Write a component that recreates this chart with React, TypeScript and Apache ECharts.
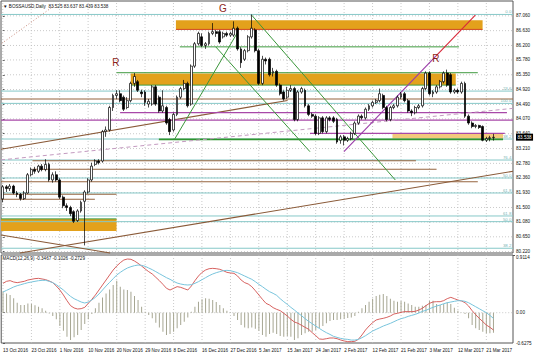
import React, { useEffect, useRef } from 'react';
import * as echarts from 'echarts';

const FONT = 'Liberation Sans';
const SLOTS = 144;
const LABEL_STEP = 8;
const PRICE_MIN = 80.18;
const PRICE_MAX = 87.49;
const MACD_MIN = -0.6275;
const MACD_HIST_MAX = 1.195;
const MACD_LINE_MAX = 0.9114;

const dateLabels = ['13 Oct 2016', '23 Oct 2016', '1 Nov 2016', '10 Nov 2016', '20 Nov 2016', '29 Nov 2016', '8 Dec 2016', '16 Dec 2016', '27 Dec 2016', '5 Jan 2017', '15 Jan 2017', '24 Jan 2017', '2 Feb 2017', '12 Feb 2017', '21 Feb 2017', '3 Mar 2017', '12 Mar 2017', '21 Mar 2017'];
const priceTicks = [87.06, 86.63, 86.2, 85.78, 85.35, 84.92, 84.49, 84.07, 83.64, 83.21, 82.78, 82.36, 81.93, 81.5, 81.08, 80.65, 80.22];

// [open, close, low, high]
const ohlc = [
  [81.75, 82.10, 81.65, 82.15], [82.10, 82.05, 81.95, 82.15], [82.05, 82.12, 81.98, 82.18], [82.12, 81.92, 81.88, 82.16], [81.92, 81.88, 81.80, 81.98],
  [81.88, 81.76, 81.70, 81.92], [81.76, 81.92, 81.72, 81.98], [81.92, 82.45, 81.90, 82.50], [82.45, 82.60, 82.40, 82.66], [82.60, 82.55, 82.48, 82.68],
  [82.55, 82.70, 82.50, 82.74], [82.70, 82.60, 82.55, 82.76], [82.60, 82.75, 82.55, 82.90], [82.75, 82.30, 82.25, 82.80], [82.30, 82.45, 82.22, 82.52],
  [82.45, 82.30, 82.25, 82.55], [82.30, 81.80, 81.75, 82.35], [81.80, 81.55, 81.48, 81.85], [81.55, 81.50, 81.40, 81.62], [81.50, 81.32, 81.25, 81.55],
  [81.38, 81.10, 81.05, 81.42], [81.12, 81.40, 81.08, 81.45], [81.40, 81.65, 81.35, 81.70], [81.68, 81.95, 80.40, 82.00], [81.95, 82.30, 81.90, 82.35],
  [82.30, 82.70, 82.25, 82.80], [82.75, 82.85, 82.70, 82.90], [82.85, 82.80, 82.75, 82.90], [82.85, 83.70, 82.80, 83.75], [83.70, 83.75, 83.55, 83.85],
  [83.75, 84.40, 83.70, 84.45], [84.40, 84.75, 84.30, 84.80], [84.75, 84.80, 84.65, 84.90], [84.80, 84.60, 84.55, 84.90], [84.70, 84.35, 84.30, 84.75],
  [84.40, 84.60, 84.35, 84.70], [84.60, 85.10, 84.55, 85.15], [85.10, 85.30, 85.00, 85.40], [85.15, 84.90, 84.85, 85.20], [84.85, 84.80, 84.70, 84.92],
  [84.85, 84.55, 84.45, 84.90], [84.50, 84.58, 84.40, 84.65], [84.50, 85.00, 84.45, 85.05], [85.00, 84.50, 84.45, 85.05], [84.70, 84.30, 84.25, 84.75],
  [84.30, 84.45, 84.25, 84.90], [84.40, 83.95, 83.90, 84.45], [84.05, 83.70, 83.60, 84.10], [83.75, 84.20, 83.70, 84.25], [84.20, 84.70, 84.15, 84.75],
  [84.70, 84.95, 84.65, 85.00], [84.95, 85.10, 84.90, 85.20], [85.10, 84.45, 84.40, 85.15], [84.50, 85.60, 84.45, 85.65], [85.60, 86.25, 85.55, 86.30],
  [86.25, 86.55, 86.20, 86.60], [86.45, 86.20, 86.15, 86.55], [86.20, 86.25, 86.10, 86.30], [86.25, 86.55, 86.20, 86.60], [86.55, 86.60, 86.50, 86.85],
  [86.60, 86.55, 86.45, 86.65], [86.60, 86.30, 86.25, 86.65], [86.45, 86.55, 86.40, 86.60], [86.55, 86.50, 86.45, 86.60], [86.50, 86.55, 86.45, 86.60],
  [86.50, 86.70, 86.45, 86.90], [86.70, 86.10, 86.05, 86.75], [86.10, 85.70, 85.55, 86.15], [85.80, 86.05, 85.75, 86.10], [86.05, 86.45, 86.00, 86.50],
  [86.45, 86.70, 86.40, 87.10], [86.65, 86.05, 86.00, 86.70], [86.05, 85.10, 85.05, 86.10], [85.10, 85.80, 85.05, 85.90], [85.80, 85.75, 85.65, 85.85],
  [85.80, 85.35, 85.30, 85.85], [85.40, 85.45, 85.30, 85.55], [85.45, 85.05, 85.00, 85.50], [85.05, 84.80, 84.75, 85.10], [84.85, 84.65, 84.60, 84.90],
  [84.70, 84.90, 84.65, 85.00], [84.90, 84.95, 84.85, 85.05], [84.95, 84.05, 84.00, 85.00], [84.05, 84.85, 84.00, 84.90], [84.85, 84.95, 84.80, 85.00],
  [84.90, 84.45, 84.40, 84.95], [84.45, 84.20, 84.15, 84.50], [84.20, 84.15, 84.10, 84.25], [84.15, 83.65, 83.60, 84.20], [83.65, 84.10, 83.60, 84.15],
  [84.10, 83.70, 83.65, 84.15], [83.70, 84.10, 83.65, 84.15], [84.10, 84.05, 84.00, 84.15], [84.10, 84.00, 83.95, 84.15], [84.05, 83.40, 83.35, 84.10],
  [83.45, 83.55, 83.35, 83.60], [83.55, 83.45, 83.30, 83.60], [83.45, 83.50, 83.40, 83.55], [83.50, 83.65, 83.45, 83.70], [83.65, 83.95, 83.60, 84.00],
  [83.95, 84.15, 83.90, 84.20], [84.15, 84.10, 84.05, 84.20], [84.10, 84.35, 84.05, 84.40], [84.35, 84.45, 84.30, 84.50], [84.45, 84.55, 84.40, 84.60],
  [84.55, 84.60, 84.50, 84.65], [84.60, 84.80, 84.55, 84.95], [84.75, 84.40, 84.35, 84.80], [84.40, 84.05, 84.00, 84.45], [84.05, 84.40, 84.00, 84.45],
  [84.40, 84.45, 84.35, 84.50], [84.45, 84.70, 84.40, 84.75], [84.70, 84.80, 84.65, 84.85], [84.80, 84.60, 84.55, 84.85], [84.60, 84.30, 84.25, 84.65],
  [84.30, 84.25, 84.15, 84.35], [84.25, 84.40, 84.20, 84.45], [84.40, 84.45, 84.35, 84.50], [84.45, 84.95, 84.40, 85.00], [84.95, 85.40, 84.90, 85.45],
  [85.40, 84.80, 84.75, 85.45], [84.80, 84.85, 84.70, 84.90], [84.85, 85.00, 84.80, 85.05], [85.00, 85.15, 84.95, 85.20], [85.15, 85.40, 85.10, 85.45],
  [85.40, 85.05, 85.00, 85.50], [85.35, 84.85, 84.80, 85.40], [84.85, 84.90, 84.80, 84.95], [84.90, 84.85, 84.80, 84.95], [84.85, 85.10, 84.80, 85.15],
  [85.10, 84.15, 84.10, 85.15], [84.15, 83.95, 83.90, 84.20], [83.95, 83.85, 83.80, 84.00], [83.85, 83.88, 83.80, 83.92], [83.88, 83.82, 83.78, 83.90],
  [83.85, 83.45, 83.42, 83.88], [83.45, 83.50, 83.40, 83.55], [83.50, 83.525, 83.42, 83.58], [83.525, 83.538, 83.439, 83.637],
];

const macdHist = [
  0.435, 0.400, 0.366, 0.297, 0.207, 0.159, 0.159, 0.193, 0.179, 0.152,
  0.124, 0.090, 0.041, -0.014, -0.069, -0.138, -0.276, -0.373, -0.497, -0.566,
  -0.511, -0.462, -0.359, -0.235, -0.138, -0.028, 0.090, 0.207, 0.317, 0.400,
  0.483, 0.573, 0.663, 0.538, 0.483, 0.469, 0.435, 0.345, 0.262, 0.124,
  0.021, -0.048, -0.117, -0.207, -0.304, -0.393, -0.462, -0.442, -0.393, -0.324,
  -0.255, -0.186, -0.097, 0.021, 0.124, 0.228, 0.276, 0.297, 0.290, 0.262,
  0.221, 0.159, 0.090, 0.041, -0.007, -0.069, -0.152, -0.255, -0.304, -0.324,
  -0.304, -0.331, -0.373, -0.462, -0.497, -0.442, -0.414, -0.442, -0.483, -0.497,
  -0.483, -0.497, -0.566, -0.531, -0.462, -0.428, -0.393, -0.393, -0.359, -0.317,
  -0.276, -0.221, -0.173, -0.152, -0.152, -0.138, -0.124, -0.110, -0.097, -0.069,
  0.021, 0.090, 0.159, 0.228, 0.290, 0.345, 0.373, 0.386, 0.345, 0.290,
  0.248, 0.228, 0.242, 0.228, 0.193, 0.159, 0.124, 0.124, 0.145, 0.159,
  0.242, 0.248, 0.179, 0.159, 0.179, 0.214, 0.179, 0.104, 0.041, -0.007,
  -0.028, -0.117, -0.255, -0.324, -0.359, -0.393, -0.428, -0.428, -0.414,
];

const macdMain = [
  0.416, 0.451, 0.463, 0.439, 0.428, 0.439, 0.451, 0.474, 0.486, 0.498,
  0.503, 0.492, 0.480, 0.457, 0.428, 0.369, 0.299, 0.212, 0.113, 0.026,
  -0.015, -0.033, -0.027, -0.004, 0.066, 0.136, 0.212, 0.299, 0.387, 0.474,
  0.562, 0.649, 0.719, 0.777, 0.824, 0.841, 0.836, 0.806, 0.766, 0.719,
  0.667, 0.620, 0.579, 0.521, 0.463, 0.398, 0.329, 0.299, 0.329, 0.358,
  0.346, 0.323, 0.299, 0.369, 0.463, 0.544, 0.608, 0.649, 0.672, 0.678,
  0.672, 0.661, 0.637, 0.608, 0.597, 0.591, 0.544, 0.474, 0.428, 0.404,
  0.358, 0.288, 0.212, 0.136, 0.066, 0.037, -0.009, -0.039, -0.062, -0.108,
  -0.155, -0.213, -0.260, -0.283, -0.318, -0.353, -0.388, -0.447, -0.499, -0.557,
  -0.563, -0.552, -0.540, -0.540, -0.552, -0.575, -0.592, -0.604, -0.604, -0.598,
  -0.563, -0.487, -0.400, -0.330, -0.272, -0.225, -0.208, -0.196, -0.179, -0.155,
  -0.120, -0.108, -0.091, -0.079, -0.079, -0.079, -0.074, -0.050, -0.021, 0.026,
  0.066, 0.090, 0.095, 0.095, 0.113, 0.148, 0.171, 0.148, 0.124, 0.107,
  0.078, 0.020, -0.062, -0.132, -0.196, -0.254, -0.313, -0.353, -0.400,
];

const macdSignal = [
  0.264, 0.293, 0.322, 0.352, 0.375, 0.392, 0.410, 0.427, 0.439, 0.451,
  0.462, 0.468, 0.468, 0.451, 0.427, 0.392, 0.346, 0.299, 0.241, 0.188,
  0.147, 0.118, 0.089, 0.072, 0.089, 0.124, 0.171, 0.229, 0.299, 0.369,
  0.433, 0.497, 0.561, 0.608, 0.649, 0.684, 0.707, 0.725, 0.736, 0.730,
  0.713, 0.684, 0.655, 0.620, 0.585, 0.550, 0.515, 0.486, 0.451, 0.421,
  0.404, 0.392, 0.387, 0.392, 0.416, 0.445, 0.480, 0.515, 0.550, 0.579,
  0.602, 0.620, 0.637, 0.643, 0.637, 0.620, 0.602, 0.573, 0.544, 0.515,
  0.486, 0.445, 0.398, 0.357, 0.311, 0.270, 0.241, 0.206, 0.147, 0.095,
  0.048, -0.004, -0.051, -0.103, -0.150, -0.202, -0.249, -0.290, -0.331, -0.372,
  -0.412, -0.447, -0.477, -0.511, -0.529, -0.547, -0.558, -0.564, -0.576, -0.576,
  -0.564, -0.535, -0.500, -0.459, -0.418, -0.389, -0.360, -0.331, -0.307, -0.284,
  -0.255, -0.226, -0.202, -0.185, -0.162, -0.144, -0.127, -0.103, -0.074, -0.057,
  -0.028, -0.004, 0.019, 0.037, 0.060, 0.077, 0.089, 0.101, 0.112, 0.112,
  0.101, 0.077, 0.042, 0.007, -0.028, -0.063, -0.098, -0.144, -0.197,
];

// drawing objects: [price, label]
const fibLevels: [number, string][] = [
  [87.10, '0.0'], [84.877, '23.6'], [84.52, '100.0'], [83.486, '38.2'], [82.877, '76.4'],
  [82.356, '50.0'], [81.921, '61.8'], [81.254, '61.8'], [81.089, '50.0'], [80.318, '38.2'],
];
// [fromBar, toBar, price]
const brownLevels = [[-0.5, 143.5, 84.646], [8.36, 116.2, 82.857], [8.36, 122.0, 82.608], [-0.5, 133.6, 82.248], [-0.5, 32.0, 81.883], [-0.5, 25.9, 81.738]];
const purpleLevels = [[33.0, 141.8, 84.25], [-0.5, 143.5, 84.037], [86.4, 141.2, 83.651]];
const greenLevels = [[49.8, 128.3, 86.16], [32.0, 133.6, 85.41], [36.0, 127.4, 85.05], [-0.5, 32.0, 81.17]];
const thickGreenLevels = [[43.9, 140.7, 83.477]];
const redLevels = [[48.7, 134.95, 86.666]];
// [bar0, price0, bar1, price1]
const brownTrends = [[-0.5, 83.19, 80.1, 84.605], [4.8, 80.18, 143.5, 82.55], [-0.5, 80.70, 30.2, 80.18]];
const greenTrends = [[48.3, 83.477, 66.1, 86.59], [59.9, 86.16, 86.4, 83.118], [70.0, 87.08, 110.4, 82.298]];
const purpleTrends = [[95.95, 83.118, 121.8, 85.89]];
const redTrends = [[121.8, 85.89, 132.9, 87.08]];
const dashedTrends = [[-0.5, 82.88, 143.5, 84.376]];
const dottedTrends = [[-0.3, 86.26, 14.7, 87.37]];
// [bar0, priceTop, bar1, priceBottom]
const orangeZones = [[48.7, 86.935, 134.95, 86.666], [36.0, 85.39, 127.4, 85.05], [-0.5, 81.167, 32.0, 80.82]];
const paleZones = [[109.6, 83.651, 140.7, 83.486]];
const waveLabels: [string, number, number][] = [['R', 31.8, 85.72], ['G', 61.9, 87.28], ['R', 121.8, 85.83]];

const slots = Array.from({ length: SLOTS }, (_, i) => String(i));
const labelBars = dateLabels.map((_, k) => k * LABEL_STEP);
const toSegs = (lv: number[][]) => lv.map(([a, b, p]) => [a, p, b, p]);

const segSeries = (data: number[][], stroke: string, lineWidth: number, z: number, lineDash?: number[], xAxisIndex = 1, yAxisIndex = 0) => ({
  type: 'custom', xAxisIndex, yAxisIndex, z, silent: true, data,
  encode: { x: [0, 2], y: [1, 3] },
  renderItem: (_p: any, api: any) => {
    const a = api.coord([api.value(0), api.value(1)]);
    const b = api.coord([api.value(2), api.value(3)]);
    return { type: 'line', shape: { x1: a[0], y1: a[1], x2: b[0], y2: b[1] }, style: { stroke, lineWidth, lineDash: lineDash || null, fill: null } };
  },
});

const rectSeries = (data: number[][], fill: string, z: number) => ({
  type: 'custom', xAxisIndex: 1, yAxisIndex: 0, z, silent: true, data,
  encode: { x: [0, 2], y: [1, 3] },
  renderItem: (_p: any, api: any) => {
    const a = api.coord([api.value(0), api.value(1)]);
    const b = api.coord([api.value(2), api.value(3)]);
    return { type: 'rect', shape: { x: Math.min(a[0], b[0]), y: Math.min(a[1], b[1]), width: Math.abs(b[0] - a[0]), height: Math.abs(b[1] - a[1]) }, style: { fill } };
  },
});

const tiny = { fontSize: 4.6, fontFamily: FONT, color: '#111' };
const gridDash = [1, 2];
const lastClose = ohlc[ohlc.length - 1][1];

const option: any = {
  animation: false,
  backgroundColor: '#ffffff',
  title: [
    { text: '\u25BC BOSSAUSD,Daily  83.525 83.637 83.439 83.538', left: 3, top: 3.5, padding: 0, textStyle: { ...tiny, fontWeight: 'normal' } },
    { text: 'MACD(12,26,9) -0.3467 -0.1026 -0.2729', left: 2.5, top: 255.5, padding: 0, textStyle: { ...tiny, fontWeight: 'normal' } },
  ],
  grid: [
    { left: 1, top: 1, width: 512, height: 252, show: true, borderColor: '#555', borderWidth: 1, backgroundColor: '#fff' },
    { left: 1, top: 255, width: 512, height: 88, show: true, borderColor: '#555', borderWidth: 1, backgroundColor: '#fff' },
  ],
  xAxis: [
    { type: 'category', gridIndex: 0, data: slots, show: false },
    { type: 'value', gridIndex: 0, min: -0.5, max: SLOTS - 0.5, show: false },
    {
      type: 'category', gridIndex: 1, data: slots,
      axisLine: { show: false }, axisTick: { show: false }, splitLine: { show: false },
      axisLabel: {
        ...tiny, margin: 5, align: 'left',
        interval: (i: number) => i % LABEL_STEP === 0 && i / LABEL_STEP < dateLabels.length,
        formatter: (_v: string, i: number) => dateLabels[i / LABEL_STEP] || '',
      },
    },
    { type: 'value', gridIndex: 1, min: -0.5, max: SLOTS - 0.5, show: false },
  ],
  yAxis: [
    {
      type: 'value', gridIndex: 0, min: PRICE_MIN, max: PRICE_MAX, position: 'right',
      axisLine: { show: false }, splitLine: { show: false },
      axisTick: { show: true, length: 2, customValues: priceTicks, lineStyle: { color: '#555' } },
      axisLabel: { ...tiny, margin: 3, customValues: priceTicks, formatter: (v: number) => v.toFixed(3), showMinLabel: true, showMaxLabel: true },
    },
    {
      type: 'value', gridIndex: 1, min: MACD_MIN, max: MACD_HIST_MAX, position: 'right',
      axisLine: { show: false }, splitLine: { show: false },
      axisTick: { show: true, length: 2, customValues: [0, MACD_MIN], lineStyle: { color: '#555' } },
      axisLabel: { ...tiny, margin: 3, customValues: [0, MACD_MIN], formatter: (v: number) => (v === 0 ? '0.00' : String(v)), showMinLabel: true, showMaxLabel: true },
    },
    {
      type: 'value', gridIndex: 1, min: MACD_MIN, max: MACD_LINE_MAX, position: 'right',
      axisLine: { show: false }, splitLine: { show: false },
      axisTick: { show: true, length: 2, customValues: [MACD_LINE_MAX], lineStyle: { color: '#555' } },
      axisLabel: { ...tiny, margin: 3, verticalAlign: 'top', customValues: [MACD_LINE_MAX], formatter: (v: number) => String(v), showMinLabel: true, showMaxLabel: true },
    },
  ],
  series: [
    // grid lines
    segSeries([
      ...labelBars.map((b) => [b, PRICE_MIN, b, PRICE_MAX]),
      ...priceTicks.map((t) => [-0.5, t, SLOTS - 0.5, t]),
    ], '#bdbdbd', 0.8, 1, gridDash),
    segSeries([
      ...labelBars.map((b) => [b, MACD_MIN, b, MACD_HIST_MAX]),
      [-0.5, 0, SLOTS - 0.5, 0],
    ], '#bdbdbd', 0.8, 1, gridDash, 3, 1),
    // zones
    rectSeries(orangeZones, '#e3a11c', 2),
    rectSeries(paleZones, '#f3c97c', 2),
    // fib levels
    segSeries(fibLevels.map(([p]) => [-0.5, p, SLOTS - 0.5, p]), '#86c8c8', 1, 3),
    {
      type: 'scatter', xAxisIndex: 1, yAxisIndex: 0, z: 6, silent: true, symbolSize: 1,
      itemStyle: { color: 'rgba(0,0,0,0)' },
      data: fibLevels.map(([p, l]) => [143.2, p, l]),
      label: { show: true, position: [0, 0], align: 'right', verticalAlign: 'bottom', fontSize: 4.4, fontFamily: FONT, color: '#4d9c9c', formatter: (p: any) => p.value[2] },
    },
    segSeries(toSegs(brownLevels), '#96643f', 1.1, 3),
    segSeries(brownTrends, '#8a5a38', 1.1, 3),
    segSeries(toSegs(purpleLevels), '#a848a8', 1.2, 3),
    segSeries(toSegs(greenLevels), '#3f9a3f', 1, 3),
    segSeries(toSegs(thickGreenLevels), '#2f942f', 1.8, 3),
    segSeries(toSegs(redLevels), '#d0461e', 1, 3),
    segSeries(greenTrends, '#3a963a', 1, 4),
    segSeries(purpleTrends, '#9a3aa8', 1.1, 4),
    segSeries(redTrends, '#d8283a', 1.1, 4),
    segSeries(dashedTrends, '#c49ac0', 1, 3, [4, 3]),
    segSeries(dottedTrends, '#c98a7a', 1, 3, [1, 2]),
    // candles
    {
      type: 'candlestick', xAxisIndex: 0, yAxisIndex: 0, z: 5, barWidth: 2.4,
      data: ohlc,
      itemStyle: { color: '#ffffff', color0: '#000000', borderColor: '#000000', borderColor0: '#000000', borderWidth: 0.7 },
      markLine: {
        silent: true, symbol: 'none',
        lineStyle: { color: 'rgba(0,0,0,0)', width: 0 },
        label: { show: true, position: 'end', distance: 3, formatter: lastClose.toFixed(3), backgroundColor: '#000', color: '#fff', fontSize: 4.6, fontFamily: FONT, padding: [1, 1.5] },
        data: [{ yAxis: lastClose }],
      },
    },
    {
      type: 'scatter', xAxisIndex: 1, yAxisIndex: 0, z: 6, silent: true, symbolSize: 1,
      itemStyle: { color: 'rgba(0,0,0,0)' },
      data: waveLabels.map(([t, x, y]) => [x, y, t]),
      label: { show: true, position: 'inside', fontSize: 10, fontFamily: FONT, color: '#8c1f1c', opacity: 1, formatter: (p: any) => p.value[2] },
    },
    // MACD
    {
      type: 'bar', xAxisIndex: 2, yAxisIndex: 1, barWidth: 1, z: 3,
      itemStyle: { color: '#a6a692' }, data: macdHist,
    },
    {
      type: 'line', xAxisIndex: 2, yAxisIndex: 2, z: 4, showSymbol: false, symbol: 'none',
      lineStyle: { color: '#d2504e', width: 0.9 }, data: macdMain,
    },
    {
      type: 'line', xAxisIndex: 2, yAxisIndex: 2, z: 4, showSymbol: false, symbol: 'none',
      lineStyle: { color: '#78c4dc', width: 1 }, data: macdSignal,
    },
  ],
};

export default function App() {
  const ref = useRef<HTMLDivElement>(null);
  useEffect(() => {
    const chart = echarts.init(ref.current as HTMLDivElement, null, { renderer: 'svg' });
    chart.setOption(option);
    return () => chart.dispose();
  }, []);
  return <div ref={ref} style={{ position: 'fixed', left: 0, top: 0, width: 536, height: 358, background: '#fff' }} />;
}
